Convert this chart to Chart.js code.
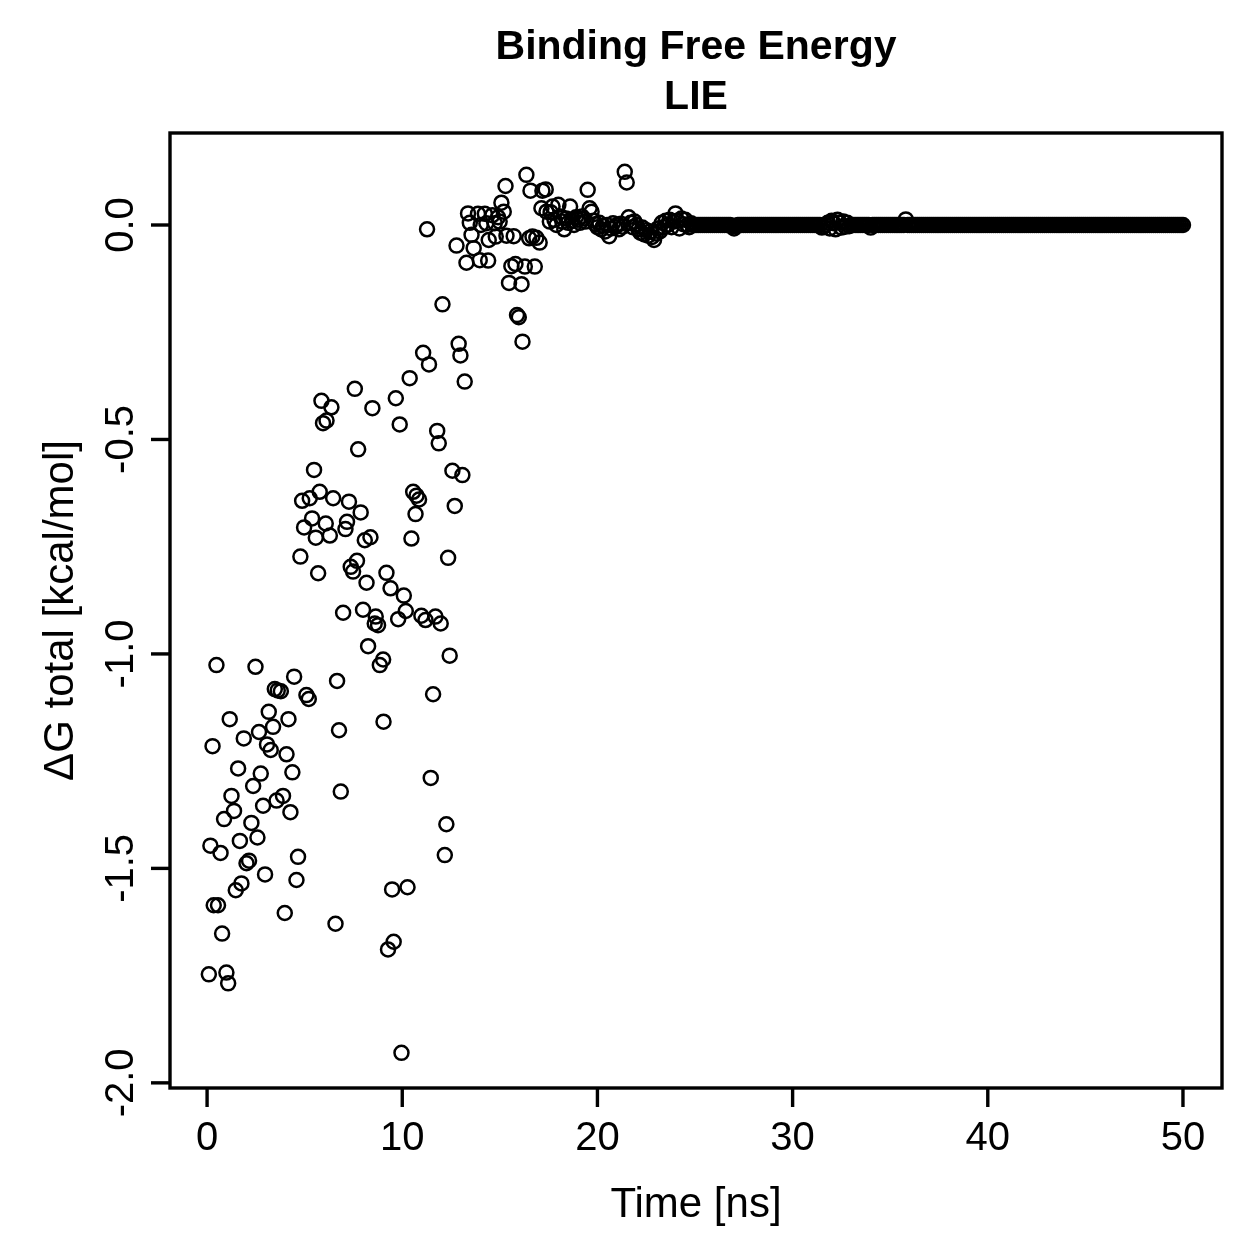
<!DOCTYPE html>
<html>
<head>
<meta charset="utf-8">
<title>Binding Free Energy LIE</title>
<script src="https://cdn.jsdelivr.net/npm/chart.js@4.4.1/dist/chart.umd.min.js"></script>
<style>
  html, body { margin: 0; padding: 0; background: #fff; overflow: hidden; }
  #lie { display: block; }
</style>
</head>
<body>
<canvas id="lie" width="1259" height="1259"></canvas>
<script>
// Data (time in ns, dG total in kcal/mol)
const timeEarly = [
  0.09, 0.17, 0.28, 0.34, 0.48, 0.56, 0.69, 0.77, 0.87, 0.99,
  1.08, 1.16, 1.25, 1.38, 1.47, 1.59, 1.68, 1.76, 1.88, 2.02,
  2.15, 2.27, 2.36, 2.48, 2.58, 2.66, 2.75, 2.87, 2.97, 3.07,
  3.16, 3.26, 3.38, 3.47, 3.56, 3.62, 3.78, 3.89, 3.98, 4.07,
  4.17, 4.27, 4.37, 4.46, 4.58, 4.66, 4.78, 4.87, 4.97, 5.09,
  5.21, 5.26, 5.38, 5.48, 5.57, 5.69, 5.77, 5.86, 5.94, 6.08,
  6.12, 6.29, 6.37, 6.46, 6.58, 6.66, 6.76, 6.85, 6.97, 7.09,
  7.17, 7.27, 7.36, 7.48, 7.57, 7.68, 7.74, 7.87, 7.99, 8.08,
  8.17, 8.25, 8.37, 8.47, 8.59, 8.64, 8.76, 8.85, 9.02, 9.04,
  9.19, 9.27, 9.40, 9.48, 9.56, 9.67, 9.79, 9.87, 9.96, 10.08,
  10.18, 10.27, 10.38, 10.47, 10.56, 10.68, 10.73, 10.86, 10.98, 11.07,
  11.19, 11.27, 11.37, 11.46, 11.58, 11.70, 11.79, 11.87, 11.97, 12.06,
  12.18, 12.26, 12.35, 12.43, 12.57, 12.69, 12.78, 12.89, 12.98, 13.08,
  13.20, 13.29
];
const dgEarly = [
  -1.747, -1.447, -1.215, -1.586, -1.026, -1.586, -1.464, -1.652, -1.385, -1.743,
  -1.768, -1.152, -1.331, -1.366, -1.551, -1.267, -1.436, -1.535, -1.197, -1.488,
  -1.482, -1.394, -1.308, -1.030, -1.428, -1.182, -1.279, -1.354, -1.514, -1.211,
  -1.135, -1.224, -1.170, -1.082, -1.342, -1.085, -1.087, -1.331, -1.604, -1.234,
  -1.152, -1.369, -1.276, -1.053, -1.527, -1.473, -0.773, -0.643, -0.705, -1.096,
  -1.105, -0.637, -0.684, -0.571, -0.729, -0.812, -0.622, -0.410, -0.462, -0.696,
  -0.456, -0.724, -0.425, -0.637, -1.629, -1.063, -1.178, -1.321, -0.904, -0.709,
  -0.692, -0.645, -0.797, -0.808, -0.382, -0.783, -0.523, -0.670, -0.897, -0.735,
  -0.834, -0.982, -0.728, -0.427, -0.929, -0.913, -0.933, -1.026, -1.013, -1.158,
  -0.811, -1.689, -0.847, -1.549, -1.671, -0.404, -0.919, -0.465, -1.930, -0.864,
  -0.900, -1.544, -0.357, -0.731, -0.622, -0.674, -0.631, -0.640, -0.911, -0.298,
  -0.921, -0.010, -0.325, -1.289, -1.094, -0.913, -0.480, -0.509, -0.929, -0.185,
  -1.469, -1.397, -0.776, -1.004, -0.573, -0.655, -0.048, -0.277, -0.304, -0.583,
  -0.365, -0.088
];

const timeMid = [
  13.37, 13.46, 13.55, 13.66, 13.88, 13.97, 14.02, 14.23, 14.31, 14.40,
  14.43, 14.62, 14.74, 14.79, 14.91, 14.99, 15.08, 15.20, 15.29, 15.34,
  15.47, 15.59, 15.71, 15.80, 15.88, 15.97, 16.11, 16.16, 16.28, 16.36,
  16.50, 16.57, 16.67, 16.79, 16.87, 17.04, 17.13, 17.18, 17.35, 17.39,
  17.56,
  17.6, 17.7, 17.8, 17.9, 18.0, 18.1, 18.2, 18.3, 18.4, 18.5,
  18.6, 18.7, 18.8, 18.9, 19.0, 19.1, 19.2, 19.3, 19.4, 19.5,
  19.6, 19.7, 19.8, 19.9, 20.0, 20.1, 20.2, 20.3, 20.4, 20.5,
  20.6, 20.7, 20.8, 20.9, 21.0, 21.1, 21.2, 21.3, 21.4, 21.5,
  21.6, 21.7, 21.8, 21.9, 22.0, 22.1, 22.2, 22.3, 22.4, 22.5,
  22.6, 22.7, 22.8, 22.9, 23.0, 23.1, 23.2, 23.3, 23.4, 23.5,
  23.6, 23.7, 23.8, 23.9, 24.0, 24.1, 24.2, 24.3, 24.4, 24.5,
  24.6, 24.7, 24.8, 24.9
];
const dgMid = [
  0.027, 0.005, -0.023, -0.054, 0.026, -0.082, 0.000, 0.026, 0.004, -0.083,
  -0.035, 0.023, 0.004, -0.027, 0.018, 0.008, 0.052, 0.031, 0.091, -0.025,
  -0.135, -0.096, -0.026, -0.091, -0.210, -0.215, -0.138, -0.272, -0.097, 0.117,
  -0.031, 0.080, -0.027, -0.097, -0.030, -0.041, 0.039, 0.080, 0.083, 0.031,
  0.008,
  0.030, 0.043, 0.012, 0.000, 0.047, 0.020, 0.008, -0.010, 0.015, 0.005,
  0.043, 0.010, 0.000, 0.018, 0.012, 0.005, 0.020, 0.015, 0.008, 0.082,
  0.039, 0.031, 0.010, 0.002, -0.005, 0.005, -0.010, -0.002, -0.015, 0.000,
  -0.026, -0.008, 0.004, -0.005, 0.000, -0.010, 0.003, -0.004, 0.124, 0.099,
  0.018, 0.005, -0.005, 0.008, 0.000, -0.010, -0.018, -0.006, -0.022, -0.012,
  -0.025, -0.015, -0.028, -0.035, -0.020, -0.008, -0.015, 0.005, -0.005, 0.010,
  0.000, 0.012, -0.005, 0.008, 0.027, 0.010, -0.008, 0.015, 0.002, 0.012,
  0.000, -0.005, 0.004, 0.000
];

const timeLate = [
  25.0, 25.1, 25.2, 25.3, 25.4, 25.5, 25.6, 25.7, 25.8, 25.9,
  26.0, 26.1, 26.2, 26.3, 26.4, 26.5, 26.6, 26.7, 26.8, 26.9,
  27.0, 27.1, 27.2, 27.3, 27.4, 27.5, 27.6, 27.7, 27.8, 27.9,
  28.0, 28.1, 28.2, 28.3, 28.4, 28.5, 28.6, 28.7, 28.8, 28.9,
  29.0, 29.1, 29.2, 29.3, 29.4, 29.5, 29.6, 29.7, 29.8, 29.9,
  30.0, 30.1, 30.2, 30.3, 30.4, 30.5, 30.6, 30.7, 30.8, 30.9,
  31.0, 31.1, 31.2, 31.3, 31.4, 31.5, 31.6, 31.7, 31.8, 31.9,
  32.0, 32.1, 32.2, 32.3, 32.4, 32.5, 32.6, 32.7, 32.8, 32.9,
  33.0, 33.1, 33.2, 33.3, 33.4, 33.5, 33.6, 33.7, 33.8, 33.9,
  34.0, 34.1, 34.2, 34.3, 34.4, 34.5, 34.6, 34.7, 34.8, 34.9,
  35.0, 35.1, 35.2, 35.3, 35.4, 35.5, 35.6, 35.7, 35.8, 35.9,
  36.0, 36.1, 36.2, 36.3, 36.4, 36.5, 36.6, 36.7, 36.8, 36.9,
  37.0, 37.1, 37.2, 37.3, 37.4, 37.5, 37.6, 37.7, 37.8, 37.9,
  38.0, 38.1, 38.2, 38.3, 38.4, 38.5, 38.6, 38.7, 38.8, 38.9,
  39.0, 39.1, 39.2, 39.3, 39.4, 39.5, 39.6, 39.7, 39.8, 39.9,
  40.0, 40.1, 40.2, 40.3, 40.4, 40.5, 40.6, 40.7, 40.8, 40.9,
  41.0, 41.1, 41.2, 41.3, 41.4, 41.5, 41.6, 41.7, 41.8, 41.9,
  42.0, 42.1, 42.2, 42.3, 42.4, 42.5, 42.6, 42.7, 42.8, 42.9,
  43.0, 43.1, 43.2, 43.3, 43.4, 43.5, 43.6, 43.7, 43.8, 43.9,
  44.0, 44.1, 44.2, 44.3, 44.4, 44.5, 44.6, 44.7, 44.8, 44.9,
  45.0, 45.1, 45.2, 45.3, 45.4, 45.5, 45.6, 45.7, 45.8, 45.9,
  46.0, 46.1, 46.2, 46.3, 46.4, 46.5, 46.6, 46.7, 46.8, 46.9,
  47.0, 47.1, 47.2, 47.3, 47.4, 47.5, 47.6, 47.7, 47.8, 47.9,
  48.0, 48.1, 48.2, 48.3, 48.4, 48.5, 48.6, 48.7, 48.8, 48.9,
  49.0, 49.1, 49.2, 49.3, 49.4, 49.5, 49.6, 49.7, 49.8, 49.9,
  50.0
];
const dgLate = [
  0, 0, 0, 0, 0, 0, 0, 0, 0, 0,
  0, 0, 0, 0, 0, 0, 0, 0, 0, -0.004,
  -0.008, -0.003, 0, 0, 0, 0, 0, 0, 0, 0,
  0, 0, 0, 0, 0, 0, 0, 0, 0, 0,
  0, 0, 0, 0, 0, 0, 0, 0, 0, 0,
  0, 0, 0, 0, 0, 0, 0, 0, 0, 0,
  0, 0, 0, 0, 0, -0.006, -0.004, 0, 0.005, -0.008,
  0.010, 0.004, -0.010, 0.012, 0.006, -0.006, 0.008, -0.004, 0.005, -0.003,
  0, 0, 0, 0, 0, 0, 0, 0, 0, 0,
  -0.006, 0, 0, 0, 0, 0, 0, 0, 0, 0,
  0, 0, 0, 0, 0, 0, 0, 0, 0.013, 0,
  0, 0, 0, 0, 0, 0, 0, 0, 0, 0,
  0, 0, 0, 0, 0, 0, 0, 0, 0, 0,
  0, 0, 0, 0, 0, 0, 0, 0, 0, 0,
  0, 0, 0, 0, 0, 0, 0, 0, 0, 0,
  0, 0, 0, 0, 0, 0, 0, 0, 0, 0,
  0, 0, 0, 0, 0, 0, 0, 0, 0, 0,
  0, 0, 0, 0, 0, 0, 0, 0, 0, 0,
  0, 0, 0, 0, 0, 0, 0, 0, 0, 0,
  0, 0, 0, 0, 0, 0, 0, 0, 0, 0,
  0, 0, 0, 0, 0, 0, 0, 0, 0, 0,
  0, 0, 0, 0, 0, 0, 0, 0, 0, 0,
  0, 0, 0, 0, 0, 0, 0, 0, 0, 0,
  0, 0, 0, 0, 0, 0, 0, 0, 0, 0,
  0, 0, 0, 0, 0, 0, 0, 0, 0, 0,
  0
];

const xTicks = [0, 10, 20, 30, 40, 50];
const yTicks = [0, -0.5, -1, -1.5, -2];
const yTickLabels = ['0.0', '-0.5', '-1.0', '-1.5', '-2.0'];

const mainTitle = ['Binding Free Energy', 'LIE'];
const xTitle = 'Time [ns]';
const yTitle = '\u0394G total [kcal/mol]';

const FONT = '"Liberation Sans", Arial, Helvetica, sans-serif';

// build points for chart.js
const points = [];
[[timeEarly, dgEarly], [timeMid, dgMid], [timeLate, dgLate]].forEach(function (pair) {
  pair[0].forEach(function (t, i) {
    points.push({ x: t, y: pair[1][i] });
  });
});

// R style box, ticks and labels
const rFrame = {
  id: 'rFrame',
  afterDraw(chart) {
    const ctx = chart.ctx;
    const area = chart.chartArea;
    const xs = chart.scales.x;
    const ys = chart.scales.y;
    ctx.save();
    ctx.strokeStyle = '#000';
    ctx.fillStyle = '#000';
    ctx.lineWidth = 3.4;
    ctx.lineCap = 'butt';
    ctx.strokeRect(area.left, area.top, area.right - area.left, area.bottom - area.top);

    // x axis
    ctx.font = '40px ' + FONT;
    ctx.textAlign = 'center';
    ctx.textBaseline = 'alphabetic';
    xTicks.forEach(function (v) {
      const px = xs.getPixelForValue(v);
      ctx.beginPath();
      ctx.moveTo(px, area.bottom);
      ctx.lineTo(px, area.bottom + 19);
      ctx.stroke();
      ctx.fillText(String(v), px, 1150);
    });

    // y axis
    yTicks.forEach(function (v, i) {
      const py = ys.getPixelForValue(v);
      ctx.beginPath();
      ctx.moveTo(area.left, py);
      ctx.lineTo(area.left - 19, py);
      ctx.stroke();
      ctx.save();
      ctx.translate(133, py);
      ctx.rotate(-Math.PI / 2);
      ctx.fillText(yTickLabels[i], 0, 0);
      ctx.restore();
    });

    const cx = (area.left + area.right) / 2;
    const cy = (area.top + area.bottom) / 2;
    ctx.font = '42px ' + FONT;
    ctx.fillText(xTitle, cx, 1217);
    ctx.save();
    ctx.translate(73, cy);
    ctx.rotate(-Math.PI / 2);
    ctx.fillText(yTitle, 0, 0);
    ctx.restore();

    // title
    ctx.font = 'bold 41px ' + FONT;
    ctx.fillText(mainTitle[0], cx, 59);
    ctx.fillText(mainTitle[1], cx, 109);
    ctx.restore();
  }
};

const ctx = document.getElementById('lie').getContext('2d');
new Chart(ctx, {
  type: 'scatter',
  data: {
    datasets: [{
      label: 'dG total',
      data: points,
      showLine: false,
      pointStyle: 'circle',
      pointRadius: 7,
      pointHoverRadius: 7,
      pointBorderWidth: 2.5,
      pointBorderColor: '#000',
      pointBackgroundColor: 'rgba(0,0,0,0)'
    }]
  },
  options: {
    responsive: false,
    animation: false,
    events: [],
    layout: { padding: { left: 170, right: 37, top: 133, bottom: 171 } },
    plugins: {
      legend: { display: false },
      tooltip: { enabled: false },
      title: { display: false }
    },
    scales: {
      x: { type: 'linear', min: -1.9, max: 52, display: false },
      y: { type: 'linear', min: -2.012, max: 0.2145, display: false }
    }
  },
  plugins: [rFrame]
});
</script>
</body>
</html>
